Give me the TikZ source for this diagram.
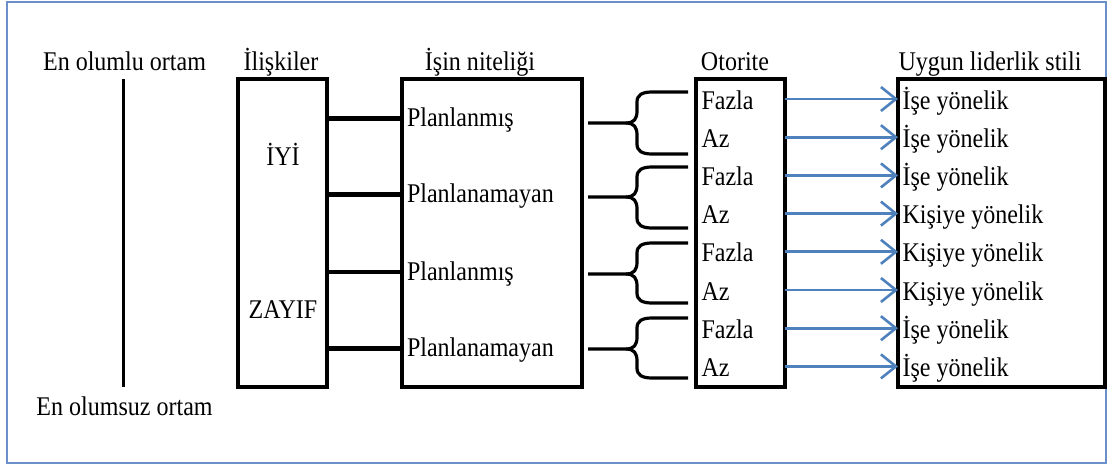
\documentclass[tikz,border=0pt]{standalone}
\usepackage{fontspec}
\setmainfont{Liberation Serif}[FakeStretch=0.89]
\usetikzlibrary{arrows.meta}
\definecolor{frameblue}{HTML}{6B8FC9}
\definecolor{arrowblue}{HTML}{4F81BD}
\begin{document}
\begin{tikzpicture}[x=1pt,y=-1pt,
  every node/.style={font=\fontsize{27}{30}\selectfont, inner sep=0pt, outer sep=0pt},
  panel/.style={draw, line width=4pt, minimum height=308pt},
  head/.style={anchor=base},
  item/.style={anchor=base west},
  link/.style={line width=4.5pt},
  brace/.style={line width=3.2pt, line join=round},
  axis/.style={line width=3pt},
  pointer/.style={draw=arrowblue, line width=2.8pt,
    -{Straight Barb[length=15pt,width=24pt,line width=2.6pt]}}
]
\useasboundingbox (0,0) rectangle (1113,466);
% outer frame
\draw[frameblue, line width=2pt] (7,2) rectangle (1106,463);

% column panels
\node[panel, minimum width=89pt]  (rel)   at (282.5,233) {};
\node[panel, minimum width=180pt] (work)  at (492,233)   {};
\node[panel, minimum width=89pt]  (auth)  at (740.5,233) {};
\node[panel, minimum width=207pt] (style) at (1001.5,233) {};

% column headings
\node[head] (hpos)   at (124.5,70) {En olumlu ortam};
\node[head] (hrel)   at (281,70)   {İlişkiler};
\node[head] (hwork)  at (480,70)   {İşin niteliği};
\node[head] (hauth)  at (735,70)   {Otorite};
\node[head] (hstyle) at (990,70)   {Uygun liderlik stili};
\node[head] (hneg)   at (124.5,415) {En olumsuz ortam};

% favourable / unfavourable scale
\coordinate (vt) at (123,79);
\coordinate (vb) at (123,387);
\draw[axis] (vt) -- (vb);

% relations
\node[head] (good) at (283,165) {İYİ};
\node[head] (weak) at (283,318) {ZAYIF};

% task structure
\node[item] (p1) at (407,126.5) {Planlanmış};
\node[item] (p2) at (407,202.7) {Planlanamayan};
\node[item] (p3) at (407,280)   {Planlanmış};
\node[item] (p4) at (407,356.7) {Planlanamayan};
\foreach \i in {1,...,4}{
  \coordinate (c\i) at ([yshift=8pt]p\i.base);
  \draw[link] (rel.east |- c\i) -- (work.west |- c\i);
}

% braces from task structure to authority
\foreach \t/\m/\b in {92/123/154, 167/197/228, 243/274/303, 318/349/378}{
  \draw[brace] (688,\t) -- (652,\t) .. controls (642,\t) and (637,\t+3) .. (637,\t+10)
    -- (637,\m-12) .. controls (637,\m-4) and (634,\m) .. (626,\m) -- (588,\m);
  \draw[brace] (626,\m) .. controls (634,\m) and (637,\m+4) .. (637,\m+12)
    -- (637,\b-10) .. controls (637,\b-3) and (642,\b) .. (652,\b) -- (688,\b);
}

% authority and leadership style
\foreach \i/\a/\s/\y in {1/Fazla/İşe yönelik/109, 2/Az/İşe yönelik/147.2,
    3/Fazla/İşe yönelik/185.4, 4/Az/Kişiye yönelik/223.6,
    5/Fazla/Kişiye yönelik/261.8, 6/Az/Kişiye yönelik/300,
    7/Fazla/İşe yönelik/338.2, 8/Az/İşe yönelik/376.4}{
  \node[item] (a\i) at (701.5,\y) {\a};
  \node[item] (s\i) at (902.5,\y) {\s};
  \coordinate (r\i) at ([yshift=10pt]a\i.base);
  \draw[pointer] (auth.east |- r\i) -- (style.west |- r\i);
}
\end{tikzpicture}
\end{document}
